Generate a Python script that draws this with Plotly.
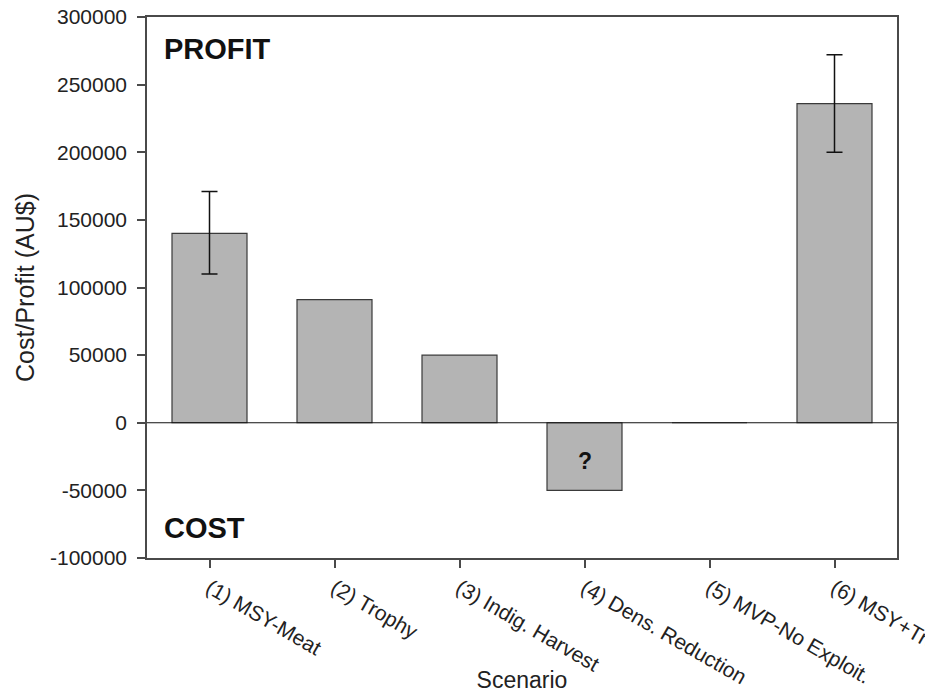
import plotly.graph_objects as go

scenarios = ["(1) MSY-Meat", "(2) Trophy", "(3) Indig. Harvest",
             "(4) Dens. Reduction", "(5) MVP-No Exploit.", "(6) MSY+Trophy"]
values = [140000, 91000, 50000, -50000, 0, 236000]
errors_plus = [31000, 0, 0, 0, 0, 36000]
errors_minus = [30000, 0, 0, 0, 0, 36000]
y_ticks = [-100000, -50000, 0, 50000, 100000, 150000, 200000, 250000, 300000]

font = "Liberation Sans, Arial, sans-serif"
axis_color = "#4a4a4a"
text_color = "#222222"
xpos = list(range(len(scenarios)))

fig = go.Figure()
fig.add_trace(go.Bar(
    x=xpos,
    y=values,
    width=0.6,
    marker=dict(color="#b4b4b4", line=dict(color="#3a3a3a", width=1.2)),
    showlegend=False,
))

# error bars only for scenarios that carry an uncertainty range
err_idx = [i for i in xpos if errors_plus[i] or errors_minus[i]]
fig.add_trace(go.Scatter(
    x=[xpos[i] for i in err_idx],
    y=[values[i] for i in err_idx],
    mode="markers", marker=dict(size=1, opacity=0),
    error_y=dict(type="data", symmetric=False,
                 array=[errors_plus[i] for i in err_idx],
                 arrayminus=[errors_minus[i] for i in err_idx],
                 color="#111111", thickness=1.5, width=8),
    showlegend=False, hoverinfo="skip",
))

# zero reference line
fig.add_shape(type="line", xref="paper", x0=0, x1=1, yref="y", y0=0, y1=0,
              line=dict(color="#111111", width=1.2))

fig.add_annotation(text="<b>PROFIT</b>", xref="paper", yref="paper", x=0.02, y=0.94,
                   xanchor="left", yanchor="middle", showarrow=False,
                   font=dict(family=font, size=29, color="#111111"))
fig.add_annotation(text="<b>COST</b>", xref="paper", yref="paper", x=0.02, y=0.055,
                   xanchor="left", yanchor="middle", showarrow=False,
                   font=dict(family=font, size=29, color="#111111"))
fig.add_annotation(text="<b>?</b>", x=3, y=values[3] / 2 - 3000, xref="x", yref="y",
                   showarrow=False, font=dict(family=font, size=23, color="#111111"))

fig.update_layout(
    width=925, height=693,
    margin=dict(l=147, r=28, t=17, b=135),
    paper_bgcolor="white", plot_bgcolor="white",
    font=dict(family=font, color=text_color),
)
fig.update_xaxes(
    range=[-0.5, 5.5], automargin=False,
    tickmode="array", tickvals=xpos, ticktext=scenarios,
    tickangle=30, ticks="outside", ticklen=8, tickwidth=1.5, tickcolor=axis_color,
    tickfont=dict(size=21, color=text_color), ticklabeloverflow="allow",
    showline=True, linecolor=axis_color, linewidth=1.5, mirror=True,
    showgrid=False, zeroline=False,
    title=dict(text="Scenario", font=dict(size=23, color=text_color), standoff=4),
)
fig.update_yaxes(
    range=[-100000, 300000], automargin=False,
    tickmode="array", tickvals=y_ticks, ticktext=[str(v) for v in y_ticks],
    ticks="outside", ticklen=8, tickwidth=1.5, tickcolor=axis_color,
    tickfont=dict(size=21, color=text_color), ticklabelstandoff=6,
    showline=True, linecolor=axis_color, linewidth=1.5, mirror=True,
    showgrid=False, zeroline=False,
    title=dict(text="Cost/Profit (AU$)", font=dict(size=25, color=text_color), standoff=8),
)

fig.write_html("out.html")
